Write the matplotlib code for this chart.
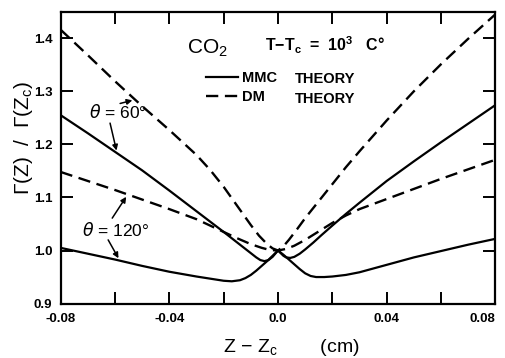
import matplotlib
matplotlib.use("Agg")
import matplotlib.pyplot as plt
import numpy as np

plt.rcParams['font.family'] = ['Liberation Sans', 'DejaVu Sans']
plt.rcParams['mathtext.fontset'] = 'custom'
plt.rcParams['mathtext.rm'] = 'Liberation Sans'
plt.rcParams['mathtext.it'] = 'DejaVu Sans:italic'
plt.rcParams['mathtext.bf'] = 'Liberation Sans:bold'

# values, Z - Zc in cm
mmc60_z = [-0.08, -0.07, -0.06, -0.05, -0.04, -0.03, -0.02, -0.015, -0.012, -0.01, -0.008,
           -0.0065, -0.005, -0.0035, -0.002, -0.001, 0.0, 0.001, 0.002, 0.003, 0.0045, 0.006,
           0.008, 0.01, 0.013, 0.016, 0.02, 0.025, 0.03, 0.04, 0.05, 0.06, 0.07, 0.08]
mmc60_g = [1.255, 1.221, 1.186, 1.151, 1.113, 1.074, 1.035, 1.015, 1.003, 0.995, 0.987,
           0.982, 0.980, 0.982, 0.988, 0.994, 1.0, 0.995, 0.990, 0.987, 0.986, 0.988,
           0.994, 1.002, 1.015, 1.029, 1.047, 1.069, 1.090, 1.131, 1.168, 1.204, 1.239, 1.274]

mmc120_z = [-0.08, -0.07, -0.06, -0.05, -0.04, -0.03, -0.025, -0.02, -0.017, -0.014, -0.012,
            -0.01, -0.008, -0.006, -0.004, -0.002, 0.0, 0.002, 0.004, 0.006, 0.008, 0.01,
            0.012, 0.014, 0.017, 0.02, 0.025, 0.03, 0.04, 0.05, 0.06, 0.07, 0.08]
mmc120_g = [1.005, 0.994, 0.983, 0.971, 0.960, 0.951, 0.947, 0.943, 0.942, 0.944, 0.948,
            0.954, 0.962, 0.971, 0.980, 0.990, 1.0, 0.992, 0.983, 0.974, 0.965, 0.957,
            0.952, 0.950, 0.950, 0.951, 0.954, 0.959, 0.973, 0.987, 0.999, 1.011, 1.022]

dm60_z = [-0.08, -0.07, -0.06, -0.05, -0.04, -0.03, -0.025, -0.02, -0.015, -0.01, -0.007,
          -0.004, -0.002, 0.0, 0.002, 0.004, 0.007, 0.01, 0.015, 0.02, 0.025, 0.03, 0.04,
          0.05, 0.06, 0.07, 0.08]
dm60_g = [1.416, 1.368, 1.319, 1.272, 1.227, 1.180, 1.152, 1.120, 1.084, 1.048, 1.028,
          1.012, 1.004, 1.0, 1.008, 1.020, 1.040, 1.061, 1.093, 1.125, 1.157, 1.187, 1.245,
          1.300, 1.351, 1.399, 1.445]

dm120_z = [-0.08, -0.07, -0.06, -0.05, -0.04, -0.03, -0.02, -0.015, -0.01, -0.006, -0.003,
           0.0, 0.003, 0.006, 0.01, 0.015, 0.02, 0.025, 0.03, 0.04, 0.05, 0.06, 0.07, 0.08]
dm120_g = [1.148, 1.131, 1.114, 1.096, 1.078, 1.059, 1.035, 1.023, 1.012, 1.005, 1.001,
           1.0, 1.003, 1.009, 1.020, 1.036, 1.052, 1.066, 1.078, 1.097, 1.116, 1.135, 1.153, 1.171]

xticks = [-0.08, -0.06, -0.04, -0.02, 0.0, 0.02, 0.04, 0.06, 0.08]
xticklabels = ["-0.08", "", "-0.04", "", "0.0", "", "0.04", "", "0.08"]
yticks = [0.9, 1.0, 1.1, 1.2, 1.3, 1.4]
yticklabels = ["0.9", "1.0", "1.1", "1.2", "1.3", "1.4"]

fig = plt.figure(figsize=(5.05, 3.58), dpi=100)
ax = fig.add_axes([0.12, 0.152, 0.861, 0.814])

dash = (0, (5.2, 2.8))
l1, = ax.plot(mmc60_z, mmc60_g, color="black", lw=1.6, label="MMC")
ax.plot(mmc120_z, mmc120_g, color="black", lw=1.6)
l2, = ax.plot(dm60_z, dm60_g, color="black", lw=1.7, linestyle=dash, label="DM")
ax.plot(dm120_z, dm120_g, color="black", lw=1.7, linestyle=dash)

ax.set_xlim(-0.08, 0.08)
ax.set_ylim(0.9, 1.449)
ax.set_xticks(xticks)
ax.set_xticklabels(xticklabels, fontsize=9.5, fontweight="bold")
ax.get_xticklabels()[-1].set_horizontalalignment("right")
ax.set_yticks(yticks)
ax.set_yticklabels(yticklabels, fontsize=9.5, fontweight="bold")
ax.tick_params(direction="in", length=8.5, width=1.4, top=True, right=True)
ax.tick_params(axis="x", pad=7)
ax.tick_params(axis="y", pad=6)
for s in ax.spines.values():
    s.set_linewidth(1.6)

ax.set_xlabel("Z − Z$_\\mathrm{c}$        (cm)", fontsize=14)
ax.xaxis.set_label_coords(0.53, -0.115)
ax.set_ylabel("Γ(Z)  /  Γ(Z$_\\mathrm{c}$)", fontsize=15)
ax.yaxis.set_label_coords(-0.06, 0.57)

# header texts
ax.text(0.291, 0.859, "CO$_2$", transform=ax.transAxes, fontsize=15)
ax.text(0.47, 0.866, "T−T$_\\mathbf{c}$  =  10$^\\mathbf{3}$   C°", transform=ax.transAxes,
        fontsize=11.5, fontweight="bold")

leg = ax.legend(handles=[l1, l2], loc="upper left", bbox_to_anchor=(0.3345, 0.797),
                frameon=False, fontsize=10.5, handlelength=2.2, handletextpad=0.25,
                labelspacing=0.3, borderpad=0, borderaxespad=0)
for t in leg.get_texts():
    t.set_fontweight("bold")
ax.text(0.539, 0.771, "THEORY", transform=ax.transAxes, fontsize=10.5,
        fontweight="bold", va="center")
ax.text(0.539, 0.703, "THEORY", transform=ax.transAxes, fontsize=10.5,
        fontweight="bold", va="center")

# theta labels with arrows pointing at the curves
arrow = dict(arrowstyle="-|>", lw=1.1, color="black", mutation_scale=8, shrinkA=0, shrinkB=2)
ax.text(-0.0588, 1.260, "$\\theta$ = 60°", fontsize=12.5, ha="center", va="center")
ax.annotate("", xy=(-0.0526, np.interp(-0.0526, dm60_z, dm60_g)), xytext=(-0.0581, 1.277),
            arrowprops=arrow)
ax.annotate("", xy=(-0.0592, np.interp(-0.0592, mmc60_z, mmc60_g)), xytext=(-0.0618, 1.240),
            arrowprops=arrow)
ax.text(-0.0596, 1.0385, "$\\theta$ = 120°", fontsize=12.5, ha="center", va="center")
ax.annotate("", xy=(-0.0553, np.interp(-0.0553, dm120_z, dm120_g)), xytext=(-0.061, 1.061),
            arrowprops=arrow)
ax.annotate("", xy=(-0.0582, np.interp(-0.0582, mmc120_z, mmc120_g)), xytext=(-0.0625, 1.020),
            arrowprops=arrow)

fig.savefig("out.png", dpi=100)
